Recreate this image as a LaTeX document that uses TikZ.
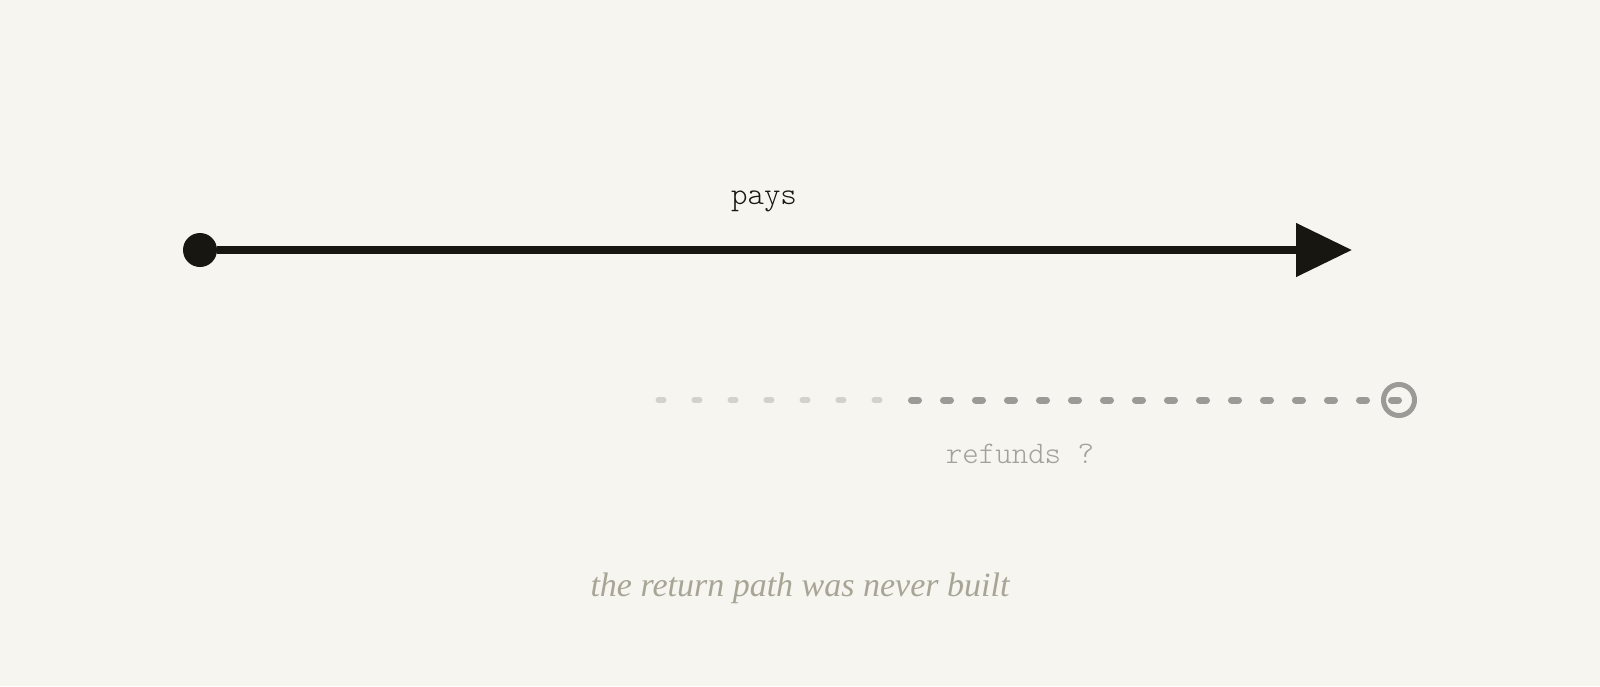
\documentclass[tikz,border=0pt]{standalone}
\usepackage{fontspec}
\setmonofont{Latin Modern Mono Light}
\newfontfamily\notefont{Liberation Serif}
\usetikzlibrary{arrows.meta}

\definecolor{paper}{HTML}{F7F5F0}
\definecolor{ink}{HTML}{171611}
\definecolor{ghostgray}{HTML}{9C9A96}
\definecolor{fadegray}{HTML}{D3D1CB}
\definecolor{labelgray}{HTML}{A3A19C}
\definecolor{notegray}{HTML}{A8A496}

\begin{document}
\begin{tikzpicture}[x=0.5pt,y=-0.5pt]

      \fill[paper] (0,0) rectangle (1600,686);
      \useasboundingbox (0,0) rectangle (1600,686);

      \begin{scope}[every node/.style={circle, inner sep=0pt}]
        \node[fill=ink, minimum size=17pt] (src) at (200,250) {};
        \node[minimum size=15.5pt] (stop) at (1399,400) {};
      \end{scope}

      \coordinate (tip) at (1352,250);
      \coordinate (fadestart) at (658.5,400);
      \coordinate (fadeend) at (880,400);
      \coordinate (dashstart) at (911.5,400);

      \begin{scope}[every node/.style={font=\ttfamily\fontsize{15.7pt}{18pt}\selectfont}]
        \node[anchor=base, text=ink] (pays) at (764,204) {pays};
        \node[anchor=base, text=labelgray] (refunds) at (1020,463) {refunds ?};
      \end{scope}

      \node[anchor=base, text=notegray, font=\notefont\itshape\fontsize{17pt}{20pt}\selectfont] (note) at (800,596) {the return path was never built};

      \begin{scope}[every edge/.style={draw, line cap=round}]
        \path (src) edge[ink, line width=4pt, line cap=butt, -{Triangle[length=28pt,width=26pt]}] (tip);
        \path (fadestart) edge[fadegray, line width=3pt, dash pattern=on 2.5pt off 15.5pt] (fadeend);
        \path (dashstart) edge[ghostgray, line width=3.5pt, dash pattern=on 3.5pt off 12.5pt] (stop.center);
      \end{scope}

      \node[draw=ghostgray, circle, inner sep=0pt, line width=2.5pt, minimum size=15.5pt] at (stop) {};

    \end{tikzpicture}
\end{document}
